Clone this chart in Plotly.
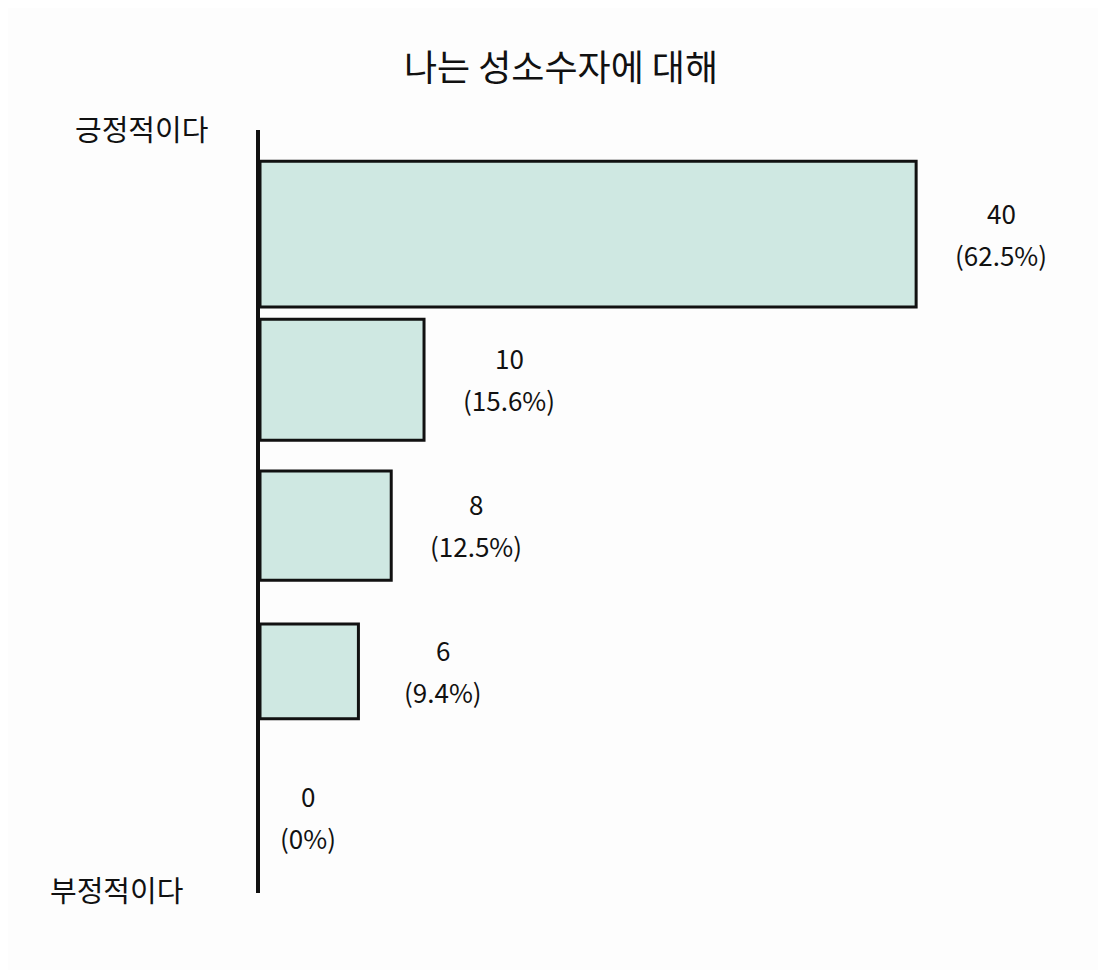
import plotly.graph_objects as go

# data
categories = ["매우 긍정", "긍정", "보통", "부정", "매우 부정"]
counts = [40, 10, 8, 6, 0]
title_text = "나는 성소수자에 대해"
top_label = "긍정적이다"
bottom_label = "부정적이다"

total = sum(counts)
pcts = [c / total * 100 for c in counts]

FONT = "Noto Sans CJK KR"
bar_widths = [1.0, 0.83, 0.75, 0.65, 0.6]
line_widths = [3 if c > 0 else 0 for c in counts]

fig = go.Figure()
fig.add_trace(go.Bar(
    y=categories,
    x=counts,
    orientation="h",
    width=bar_widths,
    marker=dict(color="#cfe8e2", line=dict(color="#111111", width=line_widths)),
    hoverinfo="skip",
))

for cat, c, p in zip(categories, counts, pcts):
    ptxt = "0" if p == 0 else f"{p:.1f}"
    xs = 85 if c > 0 else 48
    fig.add_annotation(
        x=c, y=cat, xref="x", yref="y", text=f"{c}",
        showarrow=False, xanchor="center", yanchor="middle",
        xshift=xs, yshift=22,
        font=dict(family=FONT, size=26, color="#111111"),
    )
    fig.add_annotation(
        x=c, y=cat, xref="x", yref="y", text=f"({ptxt}%)",
        showarrow=False, xanchor="center", yanchor="middle",
        xshift=xs, yshift=-20,
        font=dict(family=FONT, size=26, color="#111111"),
    )

fig.add_annotation(
    x=-0.06, y=1.003, xref="paper", yref="paper", text=top_label,
    showarrow=False, xanchor="right", yanchor="middle",
    font=dict(family=FONT, size=29, color="#111111"),
)
fig.add_annotation(
    x=-0.09, y=0.005, xref="paper", yref="paper", text=bottom_label,
    showarrow=False, xanchor="right", yanchor="middle",
    font=dict(family=FONT, size=29, color="#111111"),
)

fig.update_layout(
    width=1106, height=970,
    margin=dict(l=252, r=24, t=122, b=85),
    paper_bgcolor="#fdfdfd", plot_bgcolor="#fdfdfd",
    title=dict(text=title_text, x=0.5, xanchor="center", y=1 - 60 / 970, yanchor="middle",
               font=dict(family=FONT, size=36, color="#111111")),
    showlegend=False,
    xaxis=dict(range=[0, 50.6], visible=False, showgrid=False, zeroline=False, fixedrange=True),
    yaxis=dict(categoryorder="array", categoryarray=categories, range=[4.52, -0.714],
               showticklabels=False, showgrid=False, zeroline=False,
               showline=True, linecolor="#111111", linewidth=3.5, ticks=""),
)

fig.write_html("out.html")
